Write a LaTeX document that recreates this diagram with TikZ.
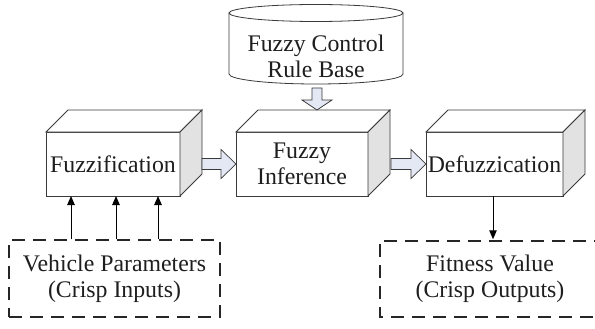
\documentclass[tikz,border=0pt]{standalone}
\usepackage{fontspec}
\setmainfont{Liberation Serif}
\usetikzlibrary{arrows.meta,calc}
\definecolor{linecol}{HTML}{3A3A3A}
\definecolor{sidegray}{HTML}{E2E2E2}
\definecolor{arrfill}{HTML}{E4E8F5}
\definecolor{txtcol}{HTML}{1E1E1E}
\newcommand\cubedepth[1]{%
  \draw[boxline, fill=white] (#1.north west) -- ++(22pt,22pt) -- ([shift={(22pt,22pt)}]#1.north east) -- (#1.north east) -- cycle;
  \draw[boxline, fill=sidegray] (#1.north east) -- ++(22pt,22pt) -- ([shift={(22pt,22pt)}]#1.south east) -- (#1.south east) -- cycle;
}
\newcommand\harrow[2]{%
  \draw[blockarrow] let \p1=(#1), \p2=(#2) in
    (\x1,\y1+5.5pt) -- (\x2-15pt,\y1+5.5pt) -- (\x2-15pt,\y1+14.5pt) -- (\x2,\y1)
    -- (\x2-15pt,\y1-14.5pt) -- (\x2-15pt,\y1-5.5pt) -- (\x1,\y1-5.5pt) -- cycle;
}
\newcommand\varrow[2]{%
  \draw[blockarrow] let \p1=(#1), \p2=(#2) in
    (\x1-5pt,\y1) -- (\x1-5pt,\y2+10pt) -- (\x1-15pt,\y2+10pt) -- (\x1,\y2)
    -- (\x1+15pt,\y2+10pt) -- (\x1+5pt,\y2+10pt) -- (\x1+5pt,\y1) -- cycle;
}
\begin{document}
\begin{tikzpicture}[x=1pt,y=1pt,
  txt/.style={font=\fontsize{23.8}{26}\selectfont, text=txtcol, align=center},
  boxline/.style={draw=linecol, line width=0.8pt},
  cube/.style={txt, boxline, fill=white, minimum width=#1, minimum height=64pt, inner sep=0pt, outer sep=0pt},
  dashbox/.style={draw=black!85, line width=1.5pt, dash pattern=on 13pt off 8pt},
  blockarrow/.style={draw=linecol, line width=0.7pt, fill=arrfill},
  sig/.style={draw=black, line width=1pt, -{Triangle[length=9pt,width=7.5pt]}}
]
\useasboundingbox (0,0) rectangle (595,-329);

% rule base cylinder
\fill[white] (229,-13) -- (229,-74) arc[start angle=180,end angle=360,x radius=87,y radius=10] -- (403,-13) -- cycle;
\draw[boxline] (229,-13) -- (229,-74) arc[start angle=180,end angle=360,x radius=87,y radius=10] -- (403,-13);
\draw[boxline, fill=white] (316,-13) ellipse[x radius=87,y radius=8.5];
\node[txt] (rb) at (316,-56) {Fuzzy Control\\Rule Base};
\coordinate (cylbot) at (317,-88);

% processing boxes
\node[cube=134pt] (fz) at (113,-164) {Fuzzification};
\cubedepth{fz}
\node[cube=132pt] (inf) at (302,-164) {Fuzzy\\Inference};
\cubedepth{inf}
\node[cube=137pt] (def) at (494.5,-164) {Defuzzication};
\cubedepth{def}

% block arrows
\coordinate (fzout) at ([xshift=22pt]fz.east);
\coordinate (infout) at ([xshift=23pt]inf.east);
\harrow{fzout}{inf.west}
\harrow{infout}{def.west}
\coordinate (infin) at ([xshift=15pt,yshift=22pt]inf.north);
\varrow{cylbot}{infin}

% input / output boxes
\node[txt, dashbox, minimum width=211pt, minimum height=77pt, inner sep=0pt] (vp) at (114.5,-278.5) {Vehicle Parameters\\(Crisp Inputs)};
\node[txt, minimum width=210pt, minimum height=76pt, inner sep=0pt] (fv) at (490,-279) {Fitness Value\\(Crisp Outputs)};
\draw[dashbox] ([xshift=12pt]fv.north east) -- ([xshift=-5pt]fv.north west) -- ([xshift=-5pt]fv.south west) -- ([xshift=12pt]fv.south east);

% signal arrows
\draw[sig] ([xshift=-43.5pt]vp.north) -- ([xshift=-43.5pt]vp.north |- fz.south);
\draw[sig] ([xshift=1.5pt]vp.north) -- ([xshift=1.5pt]vp.north |- fz.south);
\draw[sig] ([xshift=43.5pt]vp.north) -- ([xshift=43.5pt]vp.north |- fz.south);
\draw[sig] ([xshift=-1.5pt]def.south) -- ([xshift=-1.5pt]def.south |- vp.north);
\end{tikzpicture}
\end{document}
